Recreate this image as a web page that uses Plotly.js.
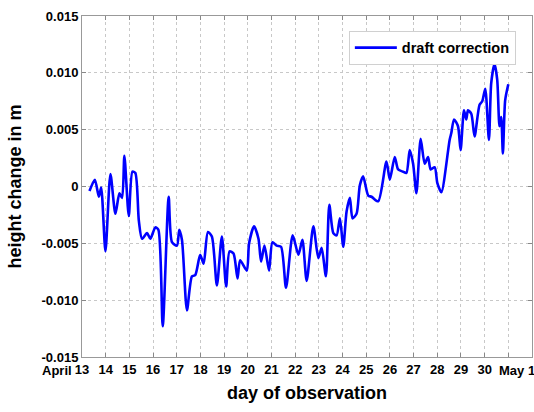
<!DOCTYPE html>
<html>
<head>
<meta charset="utf-8">
<script src="https://cdn.plot.ly/plotly-3.0.1.min.js"></script>
<style>html,body{margin:0;padding:0;background:#fff;}#chart{width:534px;height:412px;}</style>
</head>
<body>
<div id="chart"></div>
<script>
// day of observation (April day number; 31 = May 1)
const days = [13.316,13.543,13.712,13.809,13.990,14.200,14.411,14.580,14.693,14.790,14.975,15.130,15.250,15.400,15.536,15.746,15.885,16.096,16.222,16.408,16.660,16.799,17.010,17.107,17.221,17.431,17.642,17.781,17.991,18.135,18.316,18.484,18.695,18.905,19.087,19.230,19.398,19.567,19.676,19.958,20.055,20.266,20.451,20.561,20.704,20.898,21.041,21.222,21.403,21.614,21.896,22.136,22.305,22.486,22.768,22.979,23.118,23.299,23.442,23.611,23.750,23.888,24.032,24.171,24.310,24.423,24.592,24.731,24.870,25.085,25.224,25.506,25.856,25.995,26.205,26.348,26.559,26.698,26.837,26.980,27.119,27.300,27.469,27.612,27.721,27.890,28.004,28.172,28.522,28.593,28.707,28.875,28.985,29.128,29.225,29.297,29.436,29.575,29.786,29.899,30.026,30.182,30.278,30.417,30.531,30.628,30.699,30.771,30.868,31.000];
// draft correction height change (m)
const draftCorrection = [-0.0004,0.0006,-0.0009,-0.0001,-0.0057,0.0011,-0.0024,-0.0006,-0.0010,0.0027,-0.0026,0.0013,0.0012,-0.0030,-0.0046,-0.0041,-0.0046,-0.0036,-0.0038,-0.0123,-0.0009,-0.0049,-0.0052,-0.0038,-0.0047,-0.0109,-0.0079,-0.0078,-0.0060,-0.0068,-0.0040,-0.0044,-0.0087,-0.0044,-0.0088,-0.0057,-0.0059,-0.0081,-0.0065,-0.0074,-0.0050,-0.0035,-0.0046,-0.0066,-0.0052,-0.0074,-0.0049,-0.0052,-0.0053,-0.0089,-0.0043,-0.0060,-0.0047,-0.0083,-0.0035,-0.0063,-0.0054,-0.0079,-0.0016,-0.0041,-0.0043,-0.0028,-0.0053,-0.0022,-0.0010,-0.0028,-0.0024,0.0001,0.0009,-0.0008,-0.0009,-0.0013,0.0022,0.0006,0.0026,0.0015,0.0013,0.0012,0.0032,0.0020,-0.0006,0.0042,0.0020,0.0026,0.0015,0.0017,0.0003,-0.0005,0.0041,0.0047,0.0059,0.0053,0.0032,0.0067,0.0059,0.0067,0.0064,0.0044,0.0072,0.0075,0.0086,0.0041,0.0091,0.0108,0.0094,0.0053,0.0061,0.0029,0.0076,0.0090];
const xTickVals = [13,14,15,16,17,18,19,20,21,22,23,24,25,26,27,28,29,30,31];
const xTickText = ["13","14","15","16","17","18","19","20","21","22","23","24","25","26","27","28","29","30",""];
const yTickVals = [-0.015,-0.010,-0.005,0,0.005,0.010,0.015];
const yTickText = ["-0.015","-0.010","-0.005","0","0.005","0.010","0.015"];

const FONT = 'Liberation Sans, Arial, sans-serif';
const trace = {
  x: days, y: draftCorrection, type: 'scatter', mode: 'lines',
  name: 'draft correction',
  line: {color: '#0000ff', width: 2.6, shape: 'spline', smoothing: 0.7}
};
const tickFont = {family: FONT, size: 13, color: '#000', weight: 'bold'};
const layout = {
  width: 534, height: 412,
  margin: {l: 82, r: 2, t: 16, b: 55},
  paper_bgcolor: '#fff', plot_bgcolor: '#fff',
  showlegend: true,
  legend: {x: 0.593, y: 0.957, xanchor: 'left', yanchor: 'top', bgcolor: '#fff',
    bordercolor: '#d0d0d0', borderwidth: 1, itemwidth: 42,
    font: {family: FONT, size: 14.5, color: '#000', weight: 'bold'}},
  xaxis: {
    range: [13.0, 32.0], tickvals: xTickVals, ticktext: xTickText, tickangle: 0,
    tickfont: tickFont, ticks: 'inside', ticklen: 4, tickcolor: '#888',
    showline: true, linecolor: '#999', linewidth: 1, mirror: 'ticks',
    showgrid: true, gridcolor: '#c8c8c8', griddash: 'dot', gridwidth: 1,
    zeroline: false,
    title: {text: 'day of observation', font: {family: FONT, size: 18, color: '#000', weight: 'bold'}, standoff: 10}
  },
  yaxis: {
    range: [-0.015, 0.015], tickvals: yTickVals, ticktext: yTickText,
    tickfont: tickFont, ticks: 'inside', ticklen: 4, tickcolor: '#888',
    showline: true, linecolor: '#999', linewidth: 1, mirror: 'ticks',
    showgrid: true, gridcolor: '#c8c8c8', griddash: 'dot', gridwidth: 1,
    zeroline: false,
    title: {text: 'height change in m', font: {family: FONT, size: 18, color: '#000', weight: 'bold'}, standoff: 15}
  },
  annotations: [
    {text: 'April', xref: 'x', yref: 'paper', x: 13.0, y: 0, yshift: -4, xanchor: 'right', yanchor: 'top', xshift: -8, showarrow: false,
     font: {family: FONT, size: 13, color: '#000', weight: 'bold'}},
    {text: 'May 1', xref: 'x', yref: 'paper', x: 31.0, y: 0, yshift: -4, xanchor: 'left', yanchor: 'top', xshift: -11, showarrow: false,
     font: {family: FONT, size: 13, color: '#000', weight: 'bold'}}
  ]
};
Plotly.newPlot('chart', [trace], layout, {displayModeBar: false, staticPlot: true});
</script>
</body>
</html>
